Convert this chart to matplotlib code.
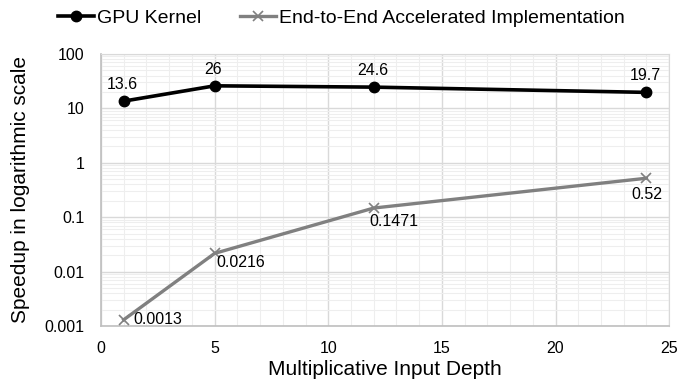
import numpy as np
import matplotlib.pyplot as plt
from matplotlib.ticker import MultipleLocator, LogLocator, FixedLocator

plt.rcParams['font.family'] = ['Liberation Sans', 'DejaVu Sans']

# *** Data
vecDepth = [1, 5, 12, 24]
vecGpu = [13.6, 26, 24.6, 19.7]
vecE2e = [0.0013, 0.0216, 0.1471, 0.52]
lstGpuLbl = ['13.6', '26', '24.6', '19.7']
lstE2eLbl = ['0.0013', '0.0216', '0.1471', '0.52']
lstYlbl = ['0.001', '0.01', '0.1', '1', '10', '100']

# *** Figure
fgr01 = plt.figure(figsize=(6.78, 3.83), dpi=100)
axs01 = fgr01.add_axes([0.149, 0.149, 0.838, 0.710])

axs01.plot(vecDepth, vecGpu, color='black', linewidth=2.6, marker='o',
           markersize=7.5, label='GPU Kernel', zorder=3)
axs01.plot(vecDepth, vecE2e, color='#808080', linewidth=2.4, marker='x',
           markersize=7, markeredgewidth=1.2,
           label='End-to-End Accelerated Implementation', zorder=3)

axs01.set_yscale('log')
axs01.set_xlim(0, 25)
axs01.set_ylim(0.001, 100)

axs01.xaxis.set_major_locator(MultipleLocator(5))
axs01.xaxis.set_minor_locator(MultipleLocator(1))
axs01.yaxis.set_major_locator(FixedLocator([float(s) for s in lstYlbl]))
axs01.yaxis.set_minor_locator(LogLocator(base=10, subs=np.arange(2, 10)))
axs01.set_yticklabels(lstYlbl)

axs01.grid(which='major', color='#d9d9d9', linewidth=1.0)
axs01.grid(which='minor', color='#eeeeee', linewidth=0.8)
axs01.set_axisbelow(True)

axs01.tick_params(which='both', length=0, labelsize=11.5, colors='black')
axs01.tick_params(axis='x', pad=11)
axs01.tick_params(axis='y', pad=12)
axs01.tick_params(axis='y', which='minor', labelleft=False)

for strTmp in ['top', 'right']:
    axs01.spines[strTmp].set_color('#d9d9d9')
for strTmp in ['left', 'bottom']:
    axs01.spines[strTmp].set_color('#bfbfbf')
    axs01.spines[strTmp].set_linewidth(1.2)

axs01.set_xlabel('Multiplicative Input Depth', fontsize=15, labelpad=3)
axs01.set_ylabel('Speedup in logarithmic scale', fontsize=15, labelpad=10)

# Data labels
for x, y, s in zip(vecDepth, vecGpu, lstGpuLbl):
    axs01.annotate(s, (x, y), xytext=(-1, 12), textcoords='offset points',
                   ha='center', va='center', fontsize=11.5)
lstOff = [(7, 0, 'left', 'center'), (1, -1, 'left', 'top'),
          (-3, -4, 'left', 'top'), (0, -6, 'center', 'top')]
for (x, y, s), (dx, dy, ha, va) in zip(zip(vecDepth, vecE2e, lstE2eLbl), lstOff):
    axs01.annotate(s, (x, y), xytext=(dx, dy), textcoords='offset points',
                   ha=ha, va=va, fontsize=11.5)

fgr01.legend(loc='center', bbox_to_anchor=(0.503, 0.953), ncol=2,
             frameon=False, fontsize=14, handlelength=1.85, handletextpad=0.15,
             columnspacing=2.0, borderpad=0)

fgr01.savefig('out.png', dpi=100, facecolor='w')
plt.close(fgr01)
